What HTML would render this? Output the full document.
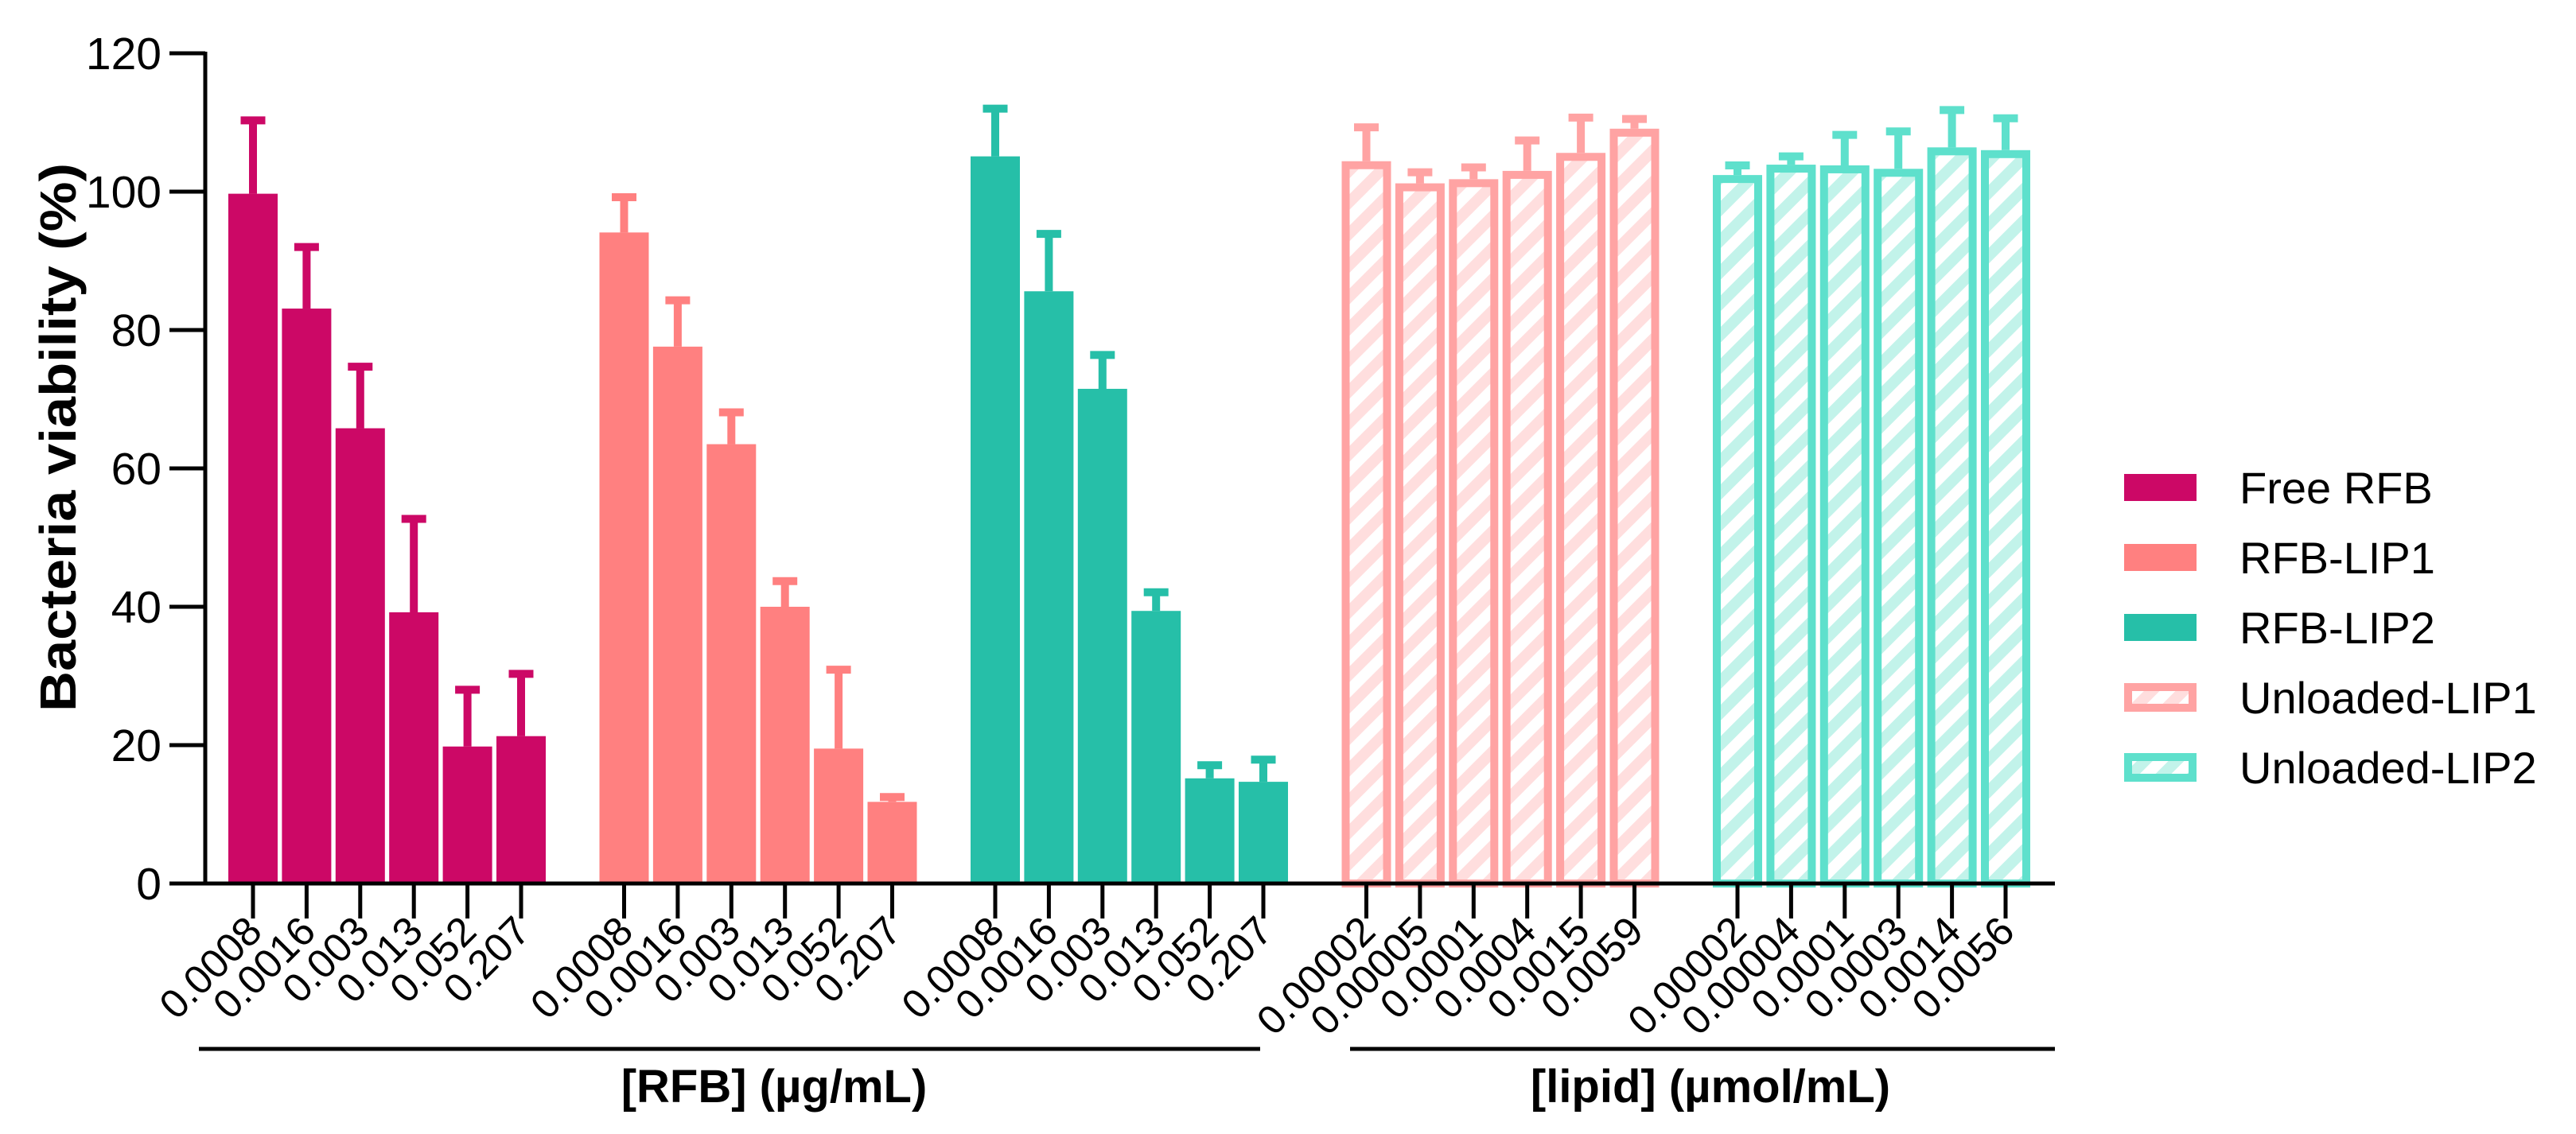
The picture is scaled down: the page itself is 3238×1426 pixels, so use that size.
<!DOCTYPE html>
<html><head><meta charset="utf-8"><style>
html,body{margin:0;padding:0;background:#fff;}
svg text{font-family:"Liberation Sans",Arial,sans-serif;}
</style></head><body>
<svg id="chart" width="3238" height="1421" viewBox="0 0 3238 1421" xmlns="http://www.w3.org/2000/svg">
<defs>
<pattern id="hatchPink" patternUnits="userSpaceOnUse" width="28" height="28" patternTransform="rotate(45)">
<rect width="28" height="28" fill="#ffffff"/><rect width="14" height="28" fill="#ffdede"/></pattern>
<pattern id="hatchTeal" patternUnits="userSpaceOnUse" width="28" height="28" patternTransform="rotate(45)">
<rect width="28" height="28" fill="#ffffff"/><rect width="14" height="28" fill="#c2f3ea"/></pattern>
</defs>
<g id="plot"></g>
</svg>
<script>
const seriesNames = ["Free RFB","RFB-LIP1","RFB-LIP2","Unloaded-LIP1","Unloaded-LIP2"];
const freeRFB = [99.7,83.1,65.8,39.2,19.8,21.3];
const freeRFBErr = [110.3,92.0,74.7,52.7,28.0,30.3];
const rfbLip1 = [94.1,77.6,63.5,40.0,19.5,11.8];
const rfbLip1Err = [99.2,84.3,68.1,43.7,30.9,12.5];
const rfbLip2 = [105.1,85.6,71.5,39.4,15.2,14.7];
const rfbLip2Err = [112.0,93.9,76.4,42.1,17.1,17.9];
const unLip1 = [104.4,101.2,101.8,103.0,105.6,109.1];
const unLip1Err = [109.3,102.8,103.5,107.4,110.7,110.5];
const unLip2 = [102.4,103.9,103.8,103.3,106.4,106.0];
const unLip2Err = [103.8,105.1,108.2,108.7,111.8,110.6];
const labelsRFB = ["0.0008","0.0016","0.003","0.013","0.052","0.207"];
const labelsLip1 = ["0.00002","0.00005","0.0001","0.0004","0.0015","0.0059"];
const labelsLip2 = ["0.00002","0.00004","0.0001","0.0003","0.0014","0.0056"];
const yTicks = [0,20,40,60,80,100,120];

const NS="http://www.w3.org/2000/svg";
const g=document.getElementById('plot');
function yS(v){return 1111 - v*8.7;}
function xS(grp,i){return 318 + grp*466.5 + i*67.4;}
function mk(tag,attrs,parent){const e=document.createElementNS(NS,tag);for(const k in attrs)e.setAttribute(k,attrs[k]);(parent||g).appendChild(e);return e;}

const groups=[
 {vals:freeRFB,err:freeRFBErr,labels:labelsRFB,color:"#cc0866",hatch:null},
 {vals:rfbLip1,err:rfbLip1Err,labels:labelsRFB,color:"#ff8080",hatch:null},
 {vals:rfbLip2,err:rfbLip2Err,labels:labelsRFB,color:"#26bfa8",hatch:null},
 {vals:unLip1,err:unLip1Err,labels:labelsLip1,color:"#ffa3a3",hatch:"url(#hatchPink)"},
 {vals:unLip2,err:unLip2Err,labels:labelsLip2,color:"#5ee0cc",hatch:"url(#hatchTeal)"}
];
groups.forEach((gr,gi)=>{
 gr.vals.forEach((v,i)=>{
  const cx=xS(gi,i), top=yS(v), et=yS(gr.err[i]);
  const eb=mk('line',{x1:cx,x2:cx,y1:et,y2:top,stroke:gr.color,'stroke-width':10});
  
  
  const cap=mk('line',{x1:cx-15.5,x2:cx+15.5,y1:et,y2:et,stroke:gr.color,'stroke-width':10});
  
  
  let r;
  if(gr.hatch){
   r=mk('rect',{x:cx-26,y:top+5,width:52,height:1111-top-5,fill:gr.hatch,stroke:gr.color,'stroke-width':10});
  } else {
   r=mk('rect',{x:cx-31,y:top,width:62,height:1111-top,fill:gr.color});
  }
  
  
  mk('line',{x1:cx,x2:cx,y1:1111,y2:1155,stroke:'#000','stroke-width':5});
  const t=mk('text',{x:0,y:0,'font-size':51,'text-anchor':'end',transform:`translate(${cx+14},${1174}) rotate(-45)`});
  t.textContent=gr.labels[i];
  
  
 });
});
// axes
const ya=mk('line',{x1:258,x2:258,y1:65,y2:1113,stroke:'#000','stroke-width':5});


const xa=mk('line',{x1:213,x2:2583,y1:1111,y2:1111,stroke:'#000','stroke-width':5});


yTicks.forEach(v=>{
 mk('line',{x1:213,x2:258,y1:yS(v),y2:yS(v),stroke:'#000','stroke-width':5});
 const t=mk('text',{x:203,y:yS(v)+20,'font-size':57,'text-anchor':'end'});
 t.textContent=v;
 
 
});
const yt=mk('text',{x:0,y:0,'font-size':64,'font-weight':'bold','text-anchor':'middle',textLength:690,lengthAdjust:'spacingAndGlyphs',transform:'translate(95,550) rotate(-90)'});
yt.textContent='Bacteria viability (%)';


// brackets
const b1=mk('line',{x1:250,x2:1584,y1:1319,y2:1319,stroke:'#000','stroke-width':5});


const b2=mk('line',{x1:1697,x2:2583,y1:1319,y2:1319,stroke:'#000','stroke-width':5});


const xt1=mk('text',{x:973,y:1386,'font-size':58,'font-weight':'bold','text-anchor':'middle'});
xt1.textContent='[RFB] (µg/mL)';


const xt2=mk('text',{x:2150,y:1386,'font-size':58,'font-weight':'bold','text-anchor':'middle'});
xt2.textContent='[lipid] (µmol/mL)';


// legend
groups.forEach((gr,k)=>{
 const cy=613+k*88;
 let s;
 if(gr.hatch) s=mk('rect',{x:2675,y:cy-13,width:81,height:26,fill:gr.hatch,stroke:gr.color,'stroke-width':10});
 else s=mk('rect',{x:2670,y:cy-17,width:91,height:34,fill:gr.color});
 
 
 const t=mk('text',{x:2815,y:cy+20,'font-size':56});
 t.textContent=seriesNames[k];
 
 
});
</script>
</body></html>
